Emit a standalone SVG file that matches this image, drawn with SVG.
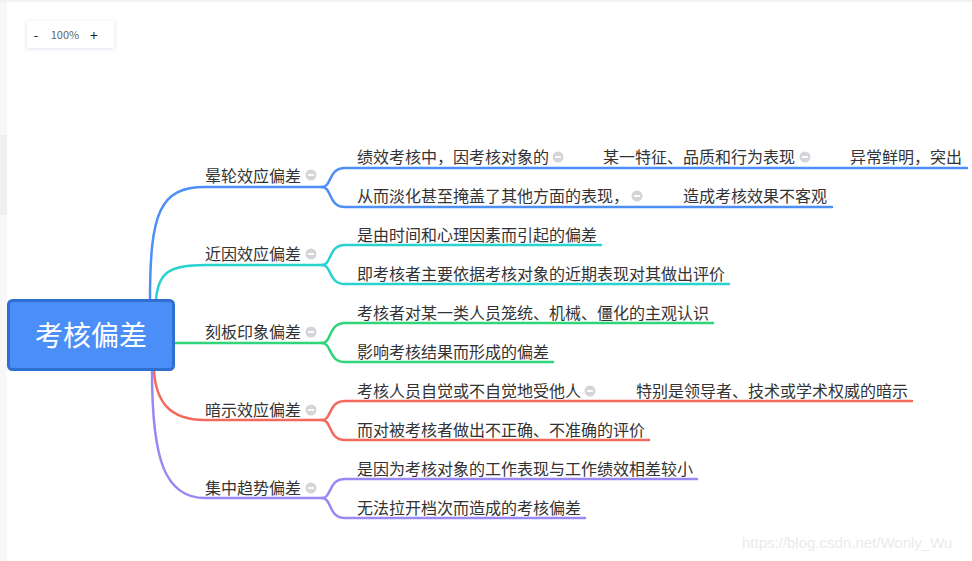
<svg xmlns="http://www.w3.org/2000/svg" width="972" height="561" viewBox="0 0 972 561">
<defs>
<style>
text{font-family:"Noto Sans CJK SC","Microsoft YaHei",sans-serif;font-size:16px;fill:#333}
.line{fill:none;stroke-width:2.5;stroke-linecap:round}
.b1{stroke:#4d8ef7}.b2{stroke:#2ad2cf}.b3{stroke:#2fd578}.b4{stroke:#f5695d}.b5{stroke:#9a88f3}
</style>
<filter id="sh" x="-20%" y="-40%" width="140%" height="180%">
<feDropShadow dx="0" dy="1" stdDeviation="2" flood-color="#9aa8c8" flood-opacity="0.35"/>
</filter>
<g id="icon"><circle cx="0" cy="0" r="5.5" fill="#d5d5d9"/><rect x="-3" y="-0.9" width="6" height="1.8" fill="#fff"/></g>
</defs>
<rect width="972" height="561" fill="#fff"/>
<rect x="0" y="0" width="7" height="561" fill="#f7f7f7"/>
<rect x="0" y="135" width="7" height="80" fill="#efefef"/>
<rect x="0" y="0" width="972" height="2" fill="#f2f2f2"/>

<g id="zoom-control">
<rect x="27" y="21" width="87" height="27" fill="#fff" filter="url(#sh)"/>
<text x="36" y="40" style="font-size:13px;fill:#222" text-anchor="middle">-</text>
<text x="65" y="39" style="font-size:11px;fill:#666" text-anchor="middle">100%</text>
<text x="94" y="41" style="font-size:14px;fill:#222" text-anchor="middle">+</text>
</g>

<g id="connectors">
<path class="line b1" d="M150 300 C150 212,160 187,205 187 L322 187"/>
<path class="line b1" d="M322 187 C332 187,328 168,345 168 L967 168"/>
<path class="line b1" d="M322 187 C332 187,328 207,345 207 L832 207"/>
<path class="line b2" d="M156 300 C158 272,170 265,205 265 L322 265"/>
<path class="line b2" d="M322 265 C332 265,328 245,345 245 L601 245"/>
<path class="line b2" d="M322 265 C332 265,328 284,345 284 L729 284"/>
<path class="line b3" d="M175 343 L322 343"/>
<path class="line b3" d="M322 343 C332 343,328 323,345 323 L713 323"/>
<path class="line b3" d="M322 343 C332 343,328 362,345 362 L553 362"/>
<path class="line b4" d="M154 371 C156 400,168 420,205 420 L322 420"/>
<path class="line b4" d="M322 420 C332 420,328 401,345 401 L912 401"/>
<path class="line b4" d="M322 420 C332 420,328 440,345 440 L649 440"/>
<path class="line b5" d="M152 371 C152 460,165 498,205 498 L322 498"/>
<path class="line b5" d="M322 498 C332 498,328 479,345 479 L697 479"/>
<path class="line b5" d="M322 498 C332 498,328 518,345 518 L585 518"/>
</g>

<g id="root">
<rect x="8.5" y="300.5" width="165" height="69" rx="4" fill="#4b8ef8" stroke="#2f6fd1" stroke-width="3"/>
<text x="91" y="346" text-anchor="middle" style="font-size:28px;fill:#fff">考核偏差</text>
</g>

<g id="n1"><text x="205" y="182">晕轮效应偏差</text><use href="#icon" x="311" y="175"/></g>
<g id="n1a"><text x="357" y="163">绩效考核中，因考核对象的</text><use href="#icon" x="558" y="157"/><text x="603" y="163">某一特征、品质和行为表现</text><use href="#icon" x="805" y="157"/><text x="850" y="163">异常鲜明，突出</text></g>
<g id="n1b"><text x="357" y="202">从而淡化甚至掩盖了其他方面的表现，</text><use href="#icon" x="637" y="196"/><text x="683" y="202">造成考核效果不客观</text></g>

<g id="n2"><text x="205" y="260">近因效应偏差</text><use href="#icon" x="311" y="254"/></g>
<g id="n2a"><text x="357" y="241">是由时间和心理因素而引起的偏差</text></g>
<g id="n2b"><text x="357" y="280">即考核者主要依据考核对象的近期表现对其做出评价</text></g>

<g id="n3"><text x="205" y="338">刻板印象偏差</text><use href="#icon" x="311" y="332"/></g>
<g id="n3a"><text x="357" y="319">考核者对某一类人员笼统、机械、僵化的主观认识</text></g>
<g id="n3b"><text x="357" y="358">影响考核结果而形成的偏差</text></g>

<g id="n4"><text x="205" y="416">暗示效应偏差</text><use href="#icon" x="311" y="410"/></g>
<g id="n4a"><text x="357" y="397">考核人员自觉或不自觉地受他人</text><use href="#icon" x="590" y="391"/><text x="636" y="397">特别是领导者、技术或学术权威的暗示</text></g>
<g id="n4b"><text x="357" y="436">而对被考核者做出不正确、不准确的评价</text></g>

<g id="n5"><text x="205" y="494">集中趋势偏差</text><use href="#icon" x="311" y="488"/></g>
<g id="n5a"><text x="357" y="475">是因为考核对象的工作表现与工作绩效相差较小</text></g>
<g id="n5b"><text x="357" y="514">无法拉开档次而造成的考核偏差</text></g>

<text x="742" y="548" style="font-family:'Liberation Sans',Arial,sans-serif;font-size:15px;fill:#ebebeb">https://blog.csdn.net/Wonly_Wu</text>
</svg>
